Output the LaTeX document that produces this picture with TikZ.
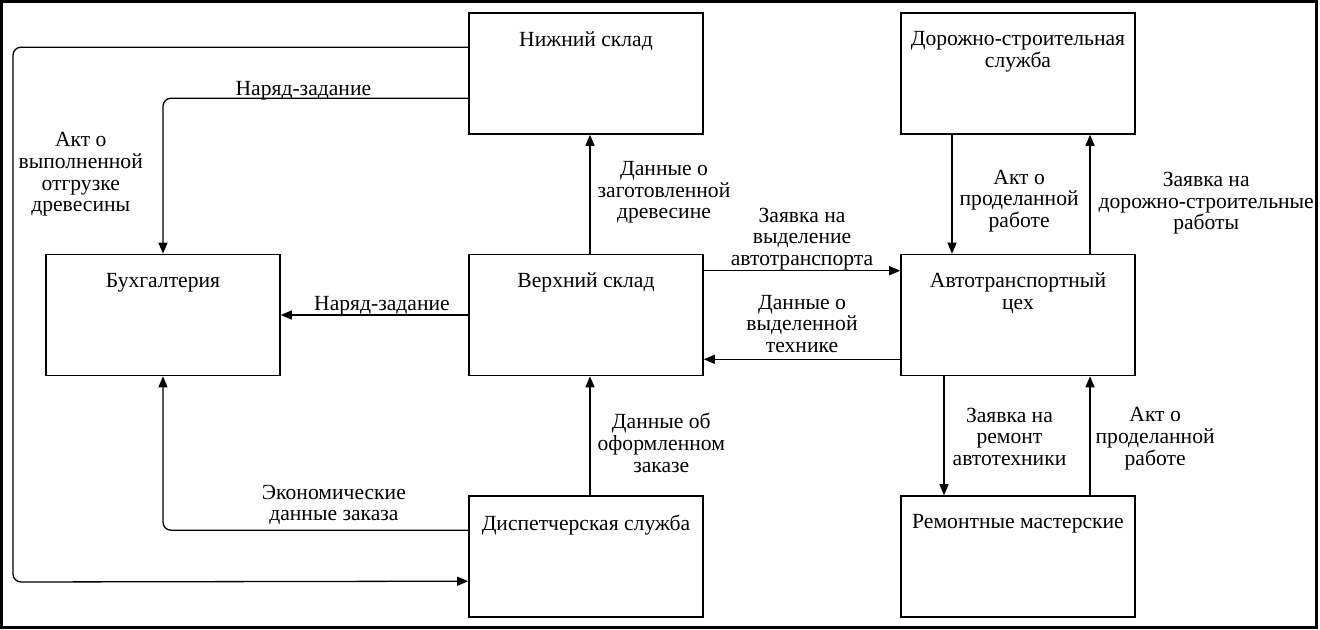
\documentclass[tikz,border=0pt]{standalone}
\usepackage{fontspec}
\setmainfont{Liberation Serif}
\usetikzlibrary{arrows.meta, calc}

\begin{document}
\begin{tikzpicture}[x=0.5pt, y=-0.5pt,
    font=\fontsize{10.8pt}{10.8pt}\selectfont,
    box/.style={draw, line width=0.8pt, minimum width=117pt, minimum height=60.5pt, inner sep=0pt},
    ttl/.style={anchor=north, inner sep=0pt, yshift=-9.5pt, align=center},
    flow/.style={-{Triangle[length=5.5pt, width=4.5pt]}, line width=0.65pt, rounded corners=4pt},
    msg/.style={align=center, inner sep=1pt}]

  \useasboundingbox (0,0) rectangle (1320,630);
  \draw[line width=1.5pt] (1.5,1.5) rectangle (1316.5,627.5);

  % подразделения
  \node[box] (nizh) at (586,73.5) {};
  \node[box] (verkh) at (586,315) {};
  \node[box] (disp) at (586,556.5) {};
  \node[box] (buh) at (163,315) {};
  \node[box] (dsl) at (1018,73.5) {};
  \node[box] (atc) at (1018,315) {};
  \node[box] (rem) at (1018,556.5) {};

  \node[ttl] (nizh-t) at (nizh.north) {Нижний склад};
  \node[ttl] (verkh-t) at (verkh.north) {Верхний склад};
  \node[ttl] (disp-t) at (disp.north) {Диспетчерская служба};
  \node[ttl] (buh-t) at (buh.north) {Бухгалтерия};
  \node[ttl] (dsl-t) at (dsl.north) {Дорожно-строительная\\служба};
  \node[ttl] (atc-t) at (atc.north) {Автотранспортный\\цех};
  \node[ttl] (rem-t) at (rem.north) {Ремонтные мастерские};

  % потоки
  \draw[flow] ($(nizh.north west)+(0,35)$) -| node[msg, right=1.5pt, pos=0.619] (m1) {Акт о\\выполненной\\отгрузке\\древесины} (13,582) -- ($(disp.north west)+(0,86)$);
  \draw[flow] ($(nizh.north west)+(0,86)$) -| node[msg, above=-2.5pt, pos=0.27] (m2) {Наряд-задание} (buh.north);
  \draw[flow] (verkh.west) -- node[msg, above=-1.5pt, pos=0.46] (m3) {Наряд-задание} (buh.east);
  \draw[flow] ($(disp.north west)+(0,35)$) -| node[msg, above=1.2pt, pos=0.22] (m4) {Экономические\\данные заказа} (buh.south);

  \draw[flow] ($(verkh.north)+(4,0)$) -- node[msg, right=2.5pt, pos=0.515] (m5) {Данные о\\заготовленной\\древесине} ($(nizh.south)+(4,0)$);
  \draw[flow] ($(disp.north)+(4,0)$) -- node[msg, right=2.5pt, pos=0.44] (m6) {Данные об\\оформленном\\заказе} ($(verkh.south)+(4,0)$);
  \draw[flow] ($(verkh.north east)+(0,17)$) -- node[msg, above=-1pt] (m7) {Заявка на\\выделение\\автотранспорта} ($(atc.north west)+(0,17)$);
  \draw[flow] ($(atc.south west)+(0,-17)$) -- node[msg, above=2pt] (m8) {Данные о\\выделенной\\технике} ($(verkh.south east)+(0,-17)$);

  \draw[flow] ($(dsl.south)+(-66,0)$) -- node[msg, right=2.5pt, pos=0.555] (m9) {Акт о\\проделанной\\работе} ($(atc.north)+(-66,0)$);
  \draw[flow] ($(atc.north)+(72,0)$) -- node[msg, right=3pt, pos=0.425] (m10) {Заявка на\\дорожно-строительные\\работы} ($(dsl.south)+(72,0)$);
  \draw[flow] ($(atc.south)+(-74,0)$) -- node[msg, right=3pt, pos=0.51] (m11) {Заявка на\\ремонт\\автотехники} ($(rem.north)+(-74,0)$);
  \draw[flow] ($(rem.north)+(72,0)$) -- node[msg, right=1.5pt, pos=0.475] (m12) {Акт о\\проделанной\\работе} ($(atc.south)+(72,0)$);
\end{tikzpicture}
\end{document}
